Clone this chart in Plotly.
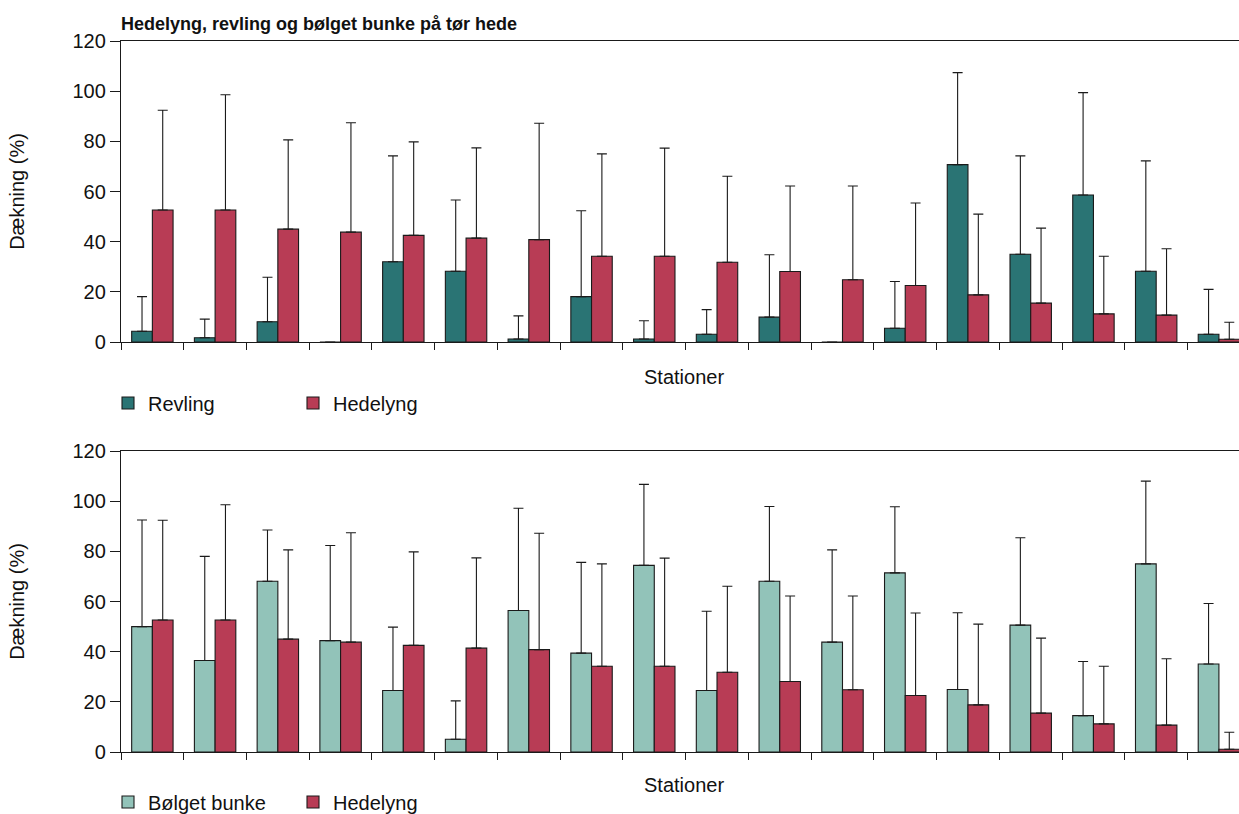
import plotly.graph_objects as go

stations = [str(i) for i in range(1, 19)]

revling = [4.3, 1.7, 8.1, 0, 32.0, 28.2, 1.2, 18.1, 1.2, 3.1, 9.9, 0, 5.5, 70.7, 35.0, 58.6, 28.2, 3.1]
revling_sd = [13.8, 7.4, 17.7, None, 42.2, 28.4, 9.2, 34.2, 7.3, 9.8, 24.9, None, 18.6, 36.7, 39.2, 40.8, 44.0, 17.9]

hedelyng = [52.6, 52.6, 45.0, 43.8, 42.5, 41.4, 40.8, 34.2, 34.2, 31.8, 28.1, 24.8, 22.5, 18.8, 15.5, 11.2, 10.7, 1.1]
hedelyng_sd = [39.8, 46.0, 35.6, 43.6, 37.3, 36.0, 46.4, 40.8, 43.1, 34.3, 34.1, 37.4, 32.9, 32.2, 29.9, 23.0, 26.5, 6.8]

bunke = [50.0, 36.5, 68.1, 44.4, 24.5, 5.1, 56.4, 39.4, 74.4, 24.5, 68.1, 43.8, 71.4, 24.9, 50.6, 14.5, 75.0, 35.1]
bunke_sd = [42.5, 41.5, 20.4, 37.9, 25.3, 15.3, 40.8, 36.2, 32.3, 31.6, 29.8, 36.8, 26.4, 30.6, 34.8, 21.6, 33.0, 24.1]

yticks = [0, 20, 40, 60, 80, 100, 120]

C_REV = "#2a7474"
C_HED = "#b83c55"
C_BUN = "#92c3b9"
FONT = "Liberation Sans"
W, H = 1239, 814
ML = 121

def err(sd):
    return dict(type="data", array=sd, symmetric=False, arrayminus=[0] * len(sd),
                color="#1a1a1a", thickness=1.1, width=5)

def bar(name, y, sd, color, xa, ya, leg):
    return go.Bar(x=stations, y=y, name=name, marker=dict(color=color, line=dict(color="#1a1a1a", width=1.1)),
                  error_y=err(sd), xaxis=xa, yaxis=ya, legend=leg, offsetgroup=name + xa)

fig = go.Figure()
fig.add_trace(bar("Revling", revling, revling_sd, C_REV, "x", "y", "legend"))
fig.add_trace(bar("Hedelyng", hedelyng, hedelyng_sd, C_HED, "x", "y", "legend2"))
fig.add_trace(bar("Bølget bunke", bunke, bunke_sd, C_BUN, "x2", "y2", "legend3"))
fig.add_trace(bar("Hedelyng", hedelyng, hedelyng_sd, C_HED, "x2", "y2", "legend4"))

def py(p):
    return 1 - p / H

def px(p):
    return p / W

def ppx(p):
    return (p - ML) / (W - ML)

xcommon = dict(type="category", range=[-0.5, 17.32], showticklabels=False, ticks="outside",
               tickson="boundaries", ticklen=7, tickcolor="#1a1a1a", tickwidth=1.2,
               showline=True, linecolor="#1a1a1a", linewidth=1.3, mirror=True, showgrid=False,
               zeroline=False, domain=[0, 1])
ycommon = dict(range=[0, 120], tickvals=yticks, ticks="outside", ticklen=10, tickcolor="#1a1a1a",
               tickwidth=1.2, showline=True, linecolor="#1a1a1a", linewidth=1.3, showgrid=False,
               zeroline=False, tickfont=dict(family=FONT, size=20, color="#111"),
               title=dict(text="Dækning (%)", font=dict(family=FONT, size=20, color="#111"), standoff=42))

legfont = dict(family=FONT, size=20, color="#111")

def leg(xs, ys):
    return dict(x=px(xs), y=py(ys), xref="container", yref="container", xanchor="left",
                yanchor="middle", orientation="h", font=legfont, bgcolor="rgba(0,0,0,0)",
                borderwidth=0)

annots = []
for ys in (377, 785):
    annots.append(dict(text="Stationer", xref="paper", yref="paper", x=ppx(684), y=py(ys),
                       xanchor="center", yanchor="middle", showarrow=False,
                       font=dict(family=FONT, size=20, color="#111")))

fig.update_layout(
    width=W, height=H, autosize=False,
    margin=dict(l=ML, r=0, t=0, b=0, autoexpand=False),
    paper_bgcolor="white", plot_bgcolor="white",
    barmode="group", bargap=0.34, bargroupgap=0,
    font=dict(family=FONT, size=20, color="#111"),
    title=dict(text="<b>Hedelyng, revling og bølget bunke på tør hede</b>",
               font=dict(family=FONT, size=18, color="#111"),
               xref="paper", x=0, xanchor="left", yref="container", y=py(24), yanchor="middle"),
    xaxis=dict(xcommon, anchor="y"),
    yaxis=dict(ycommon, domain=[py(342), py(41)], anchor="x"),
    xaxis2=dict(xcommon, anchor="y2"),
    yaxis2=dict(ycommon, domain=[py(752), py(451)], anchor="x2"),
    legend=leg(108, 403),
    legend2=leg(293, 403),
    legend3=leg(108, 802),
    legend4=leg(293, 802),
    annotations=annots,
    showlegend=True,
)

fig.write_html("out.html", config={"displayModeBar": False},
               post_script="document.body.style.margin='0';document.body.style.overflow='hidden';")
